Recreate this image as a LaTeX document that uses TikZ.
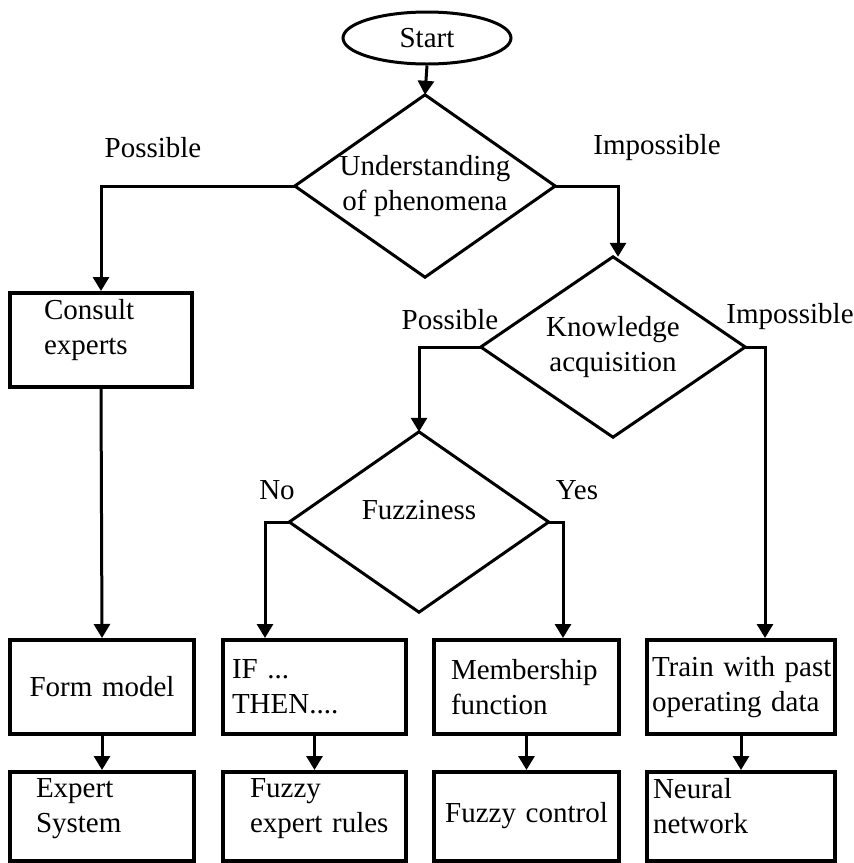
\documentclass[tikz,border=0pt]{standalone}
\usepackage{fontspec}
\setmainfont{Liberation Serif}
\usetikzlibrary{arrows.meta,calc,shapes.geometric}
\newcommand\indl[1]{\hspace*{#1pt}}
\begin{document}
\begin{tikzpicture}[x=1pt,y=-1pt,
  every node/.style={font=\fontsize{29}{35}\selectfont},
  box/.style={draw, rectangle, line width=4pt, inner sep=0pt, align=left},
  dec/.style={rectangle, inner sep=0pt, align=center},
  decline/.style={line width=3pt, line join=miter},
  arr/.style={line width=3pt, -{Triangle[length=14pt,width=16pt]}},
  lbl/.style={inner sep=0pt}]
\useasboundingbox (0,0) rectangle (854,863);

% start
\node[draw, ellipse, line width=3pt, minimum width=168pt, minimum height=52pt, inner sep=0pt] (start) at (427,38) {Start};

% decisions (rectangular frames; the diamond is drawn through their side midpoints)
\node[dec, minimum width=260pt, minimum height=182pt] (d1) at (425,186) {Understanding\\of phenomena};
\node[dec, minimum width=264pt, minimum height=180pt] (d2) at (613,347) {Knowledge\\acquisition};
\node[dec, minimum width=259pt, minimum height=180pt] (d3) at (419,522) {Fuzziness\\[-11pt]\mbox{}};
\foreach \d in {d1,d2,d3}
  \draw[decline] (\d.north) -- (\d.east) -- (\d.south) -- (\d.west) -- cycle;

% boxes
\node[box, minimum height=94pt, text width=182pt] (consult) at (101,340) {\indl{34}Consult\\\indl{34}experts\\[-9pt]\mbox{}};

\node[box, minimum height=94pt, text width=184pt, align=center] (form) at (102,687) {Form model};
\node[box, minimum height=94pt, text width=183pt] (ifbox) at (314.5,687) {\indl{9}IF ...\\\indl{9}THEN....};
\node[box, minimum height=94pt, text width=185pt] (memb) at (526.5,687) {\indl{17}Membership\\\indl{17}function};
\node[box, minimum height=94pt, text width=188pt] (train) at (741,687) {\indl{5}Train with past\\\indl{5}operating data};

\node[box, minimum height=89pt, text width=184pt] (expert) at (102,816.5) {\indl{26}Expert\\\indl{26}System\\[-12pt]\mbox{}};
\node[box, minimum height=89pt, text width=183pt] (fer) at (314.5,816.5) {\indl{27}Fuzzy\\\indl{27}expert rules\\[-12pt]\mbox{}};
\node[box, minimum height=89pt, text width=185pt, align=center] (fc) at (526.5,816.5) {Fuzzy control\\[-26pt]\mbox{}};
\node[box, minimum height=89pt, text width=188pt] (nn) at (741,816.5) {\indl{6}Neural\\\indl{6}network\\[-14pt]\mbox{}};

% labels
\node[lbl] (l1) at (153,148) {Possible};
\node[lbl] (l2) at (657,148) {Impossible};
\node[lbl] (l3) at (450,320) {Possible};
\node[lbl] (l4) at (790,317) {Impossible};
\node[lbl] (l5) at (277,490) {No};
\node[lbl] (l6) at (577,490) {Yes};

% connectors
\draw[arr] (start.south) -- (d1.north);
\draw[arr] (d1.west) -| (consult.north);
\draw[arr] (d1.east) -| ($(d2.north)+(5,0)$);
\draw[arr] (d2.west) -| (d3.north);
\draw[arr] (d2.east) -| ($(train.north)+(24,0)$);
\draw[arr] (d3.west) -| ($(ifbox.north)+(-49.5,0)$);
\draw[arr] (d3.east) -| ($(memb.north)+(36.5,0)$);
\draw[arr] (consult.south) -- (form.north);
\draw[arr] (form.south) -- (expert.north);
\draw[arr] (ifbox.south) -- (fer.north);
\draw[arr] (memb.south) -- (fc.north);
\draw[arr] (train.south) -- (nn.north);
\end{tikzpicture}
\end{document}
